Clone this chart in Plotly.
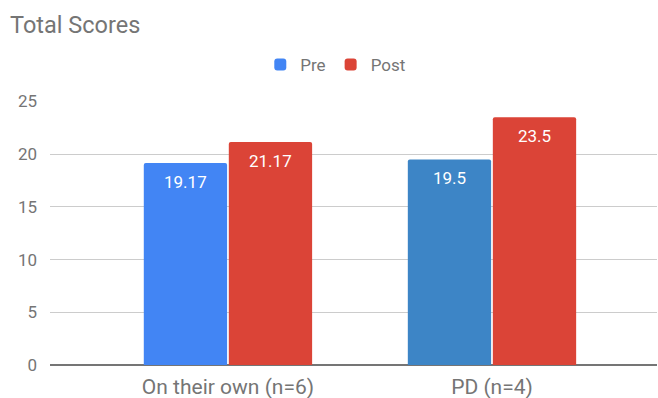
import plotly.graph_objects as go

categories = ["On their own (n=6)", "PD (n=4)"]
pre_scores = [19.17, 19.5]
post_scores = [21.17, 23.5]
pre_colors = ["#4285F4", "#3D85C6"]
post_color = "#DB4437"
y_ticks = [0, 5, 10, 15, 20, 25]

fig = go.Figure()
fig.add_trace(go.Bar(
    name="Pre", x=categories, y=pre_scores, offsetgroup="pre",
    marker=dict(color=pre_colors, line=dict(width=0)),
))
fig.add_trace(go.Bar(
    name="Post", x=categories, y=post_scores, offsetgroup="post",
    marker=dict(color=post_color, line=dict(width=0)),
))

# value labels placed just inside the top of each bar
bargap, groupgap = 0.356, 0.02
half = (1 - bargap) / 4
for i, cat in enumerate(categories):
    for val, shift in ((pre_scores[i], -half), (post_scores[i], half)):
        fig.add_annotation(
            x=i + shift, y=val, xref="x", yref="y",
            text=f"{val:g}", showarrow=False, yanchor="middle", yshift=-19,
            font=dict(color="white", size=17, family="Roboto"),
        )

fig.update_layout(
    width=658, height=398,
    margin=dict(l=50, r=1, t=101, b=33),
    paper_bgcolor="white", plot_bgcolor="white",
    font=dict(family="Roboto", color="#757575", size=16),
    title=dict(text="Total Scores", x=10 / 658, xanchor="left",
               y=1 - 25 / 398, yanchor="middle", automargin=False,
               font=dict(size=23.5, color="#757575", family="Roboto")),
    barmode="group", bargap=bargap, bargroupgap=groupgap, barcornerradius=2,
    legend=dict(orientation="h", x=0.470, xanchor="center",
                y=1 + (101 - 65) / 264, yanchor="middle",
                font=dict(size=17, color="#757575"),
                itemwidth=30, tracegroupgap=0),
    showlegend=True,
)
fig.update_xaxes(
    type="category", range=[-0.674, 1.625], automargin=False,
    showgrid=False, showline=False, ticks="", zeroline=False,
    ticklabelstandoff=7,
    tickfont=dict(size=21, color="#757575"),
)
fig.update_yaxes(
    range=[0, 25.05], tickvals=y_ticks, showgrid=True, automargin=False,
    gridcolor="#CCCCCC", gridwidth=1,
    zeroline=True, zerolinecolor="#757575", zerolinewidth=2,
    showline=False, ticks="", ticklabelstandoff=12,
    tickfont=dict(size=17, color="#757575"),
)

fig.write_html("out.html")
